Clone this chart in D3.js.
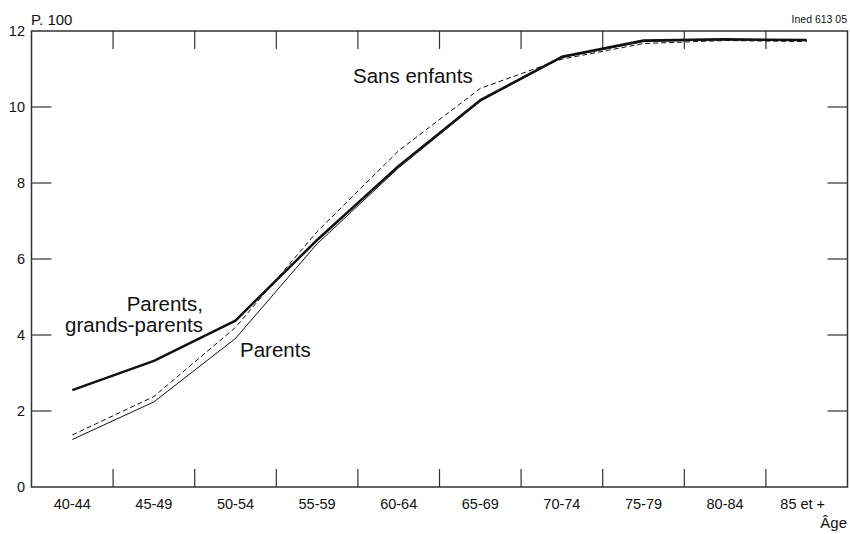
<!DOCTYPE html>
<html>
<head>
<meta charset="utf-8">
<script src="https://cdn.jsdelivr.net/npm/d3@7"></script>
<style>
  body { margin: 0; background: #fff; }
  svg { display: block; font-family: "Liberation Sans", Arial, sans-serif; }
</style>
</head>
<body>
<svg id="chart" width="850" height="534"></svg>
<script>
const categories = ["40-44", "45-49", "50-54", "55-59", "60-64", "65-69", "70-74", "75-79", "80-84", "85 et +"];
const yTicks = [0, 2, 4, 6, 8, 10, 12];
const grandsParents = [2.55, 3.32, 4.38, 6.5, 8.45, 10.18, 11.32, 11.75, 11.78, 11.76];
const parents = [1.25, 2.24, 3.91, 6.4, 8.4, 10.15, 11.3, 11.72, 11.77, 11.75];
const sansEnfants = [1.37, 2.38, 4.2, 6.72, 8.85, 10.49, 11.26, 11.67, 11.75, 11.72];

const svg = d3.select("#chart");
const L = 31.5, R = 847.5, T = 31, B = 487;

const x = d3.scaleBand().domain(categories).range([L, R]).paddingInner(0).paddingOuter(0);
const y = d3.scaleLinear().domain([0, 12]).range([B, T]);
const cx = c => x(c) + x.bandwidth() / 2;

const axisColor = "#333";

// frame
svg.append("rect").attr("x", L).attr("y", T).attr("width", R - L).attr("height", B - T)
  .attr("fill", "none").attr("stroke", axisColor).attr("stroke-width", 1.5);

// bottom & top ticks at band boundaries
const boundaries = categories.slice(1).map(c => x(c));
svg.append("g").selectAll("line").data(boundaries).join("line")
  .attr("x1", d => d).attr("x2", d => d).attr("y1", B).attr("y2", B - 18)
  .attr("stroke", axisColor).attr("stroke-width", 1.2);
svg.append("g").selectAll("line").data(boundaries).join("line")
  .attr("x1", d => d).attr("x2", d => d).attr("y1", T).attr("y2", T + 18)
  .attr("stroke", axisColor).attr("stroke-width", 1.2);

// left & right y ticks
const innerY = yTicks.filter(v => v > 0 && v < 12);
svg.append("g").selectAll("line").data(innerY).join("line")
  .attr("x1", L).attr("x2", L + 20).attr("y1", d => y(d)).attr("y2", d => y(d))
  .attr("stroke", axisColor).attr("stroke-width", 1.2);
svg.append("g").selectAll("line").data(innerY).join("line")
  .attr("x1", R - 20).attr("x2", R).attr("y1", d => y(d)).attr("y2", d => y(d))
  .attr("stroke", axisColor).attr("stroke-width", 1.2);

// y labels
svg.append("g").selectAll("text").data(yTicks).join("text")
  .attr("x", 25).attr("y", d => y(d)).attr("dy", "0.35em")
  .attr("text-anchor", "end").attr("font-size", 14.5).attr("fill", "#111")
  .text(d => d);

// x labels
svg.append("g").selectAll("text").data(categories).join("text")
  .attr("x", d => cx(d)).attr("y", 504).attr("dy", "0.35em")
  .attr("dx", (d, i) => i === categories.length - 1 ? -4 : 0)
  .attr("text-anchor", "middle").attr("font-size", 14.5).attr("fill", "#111")
  .text(d => d);

svg.append("text").attr("x", 847).attr("y", 528)
  .attr("text-anchor", "end").attr("font-size", 15).attr("fill", "#111").text("Âge");
svg.append("text").attr("x", 31).attr("y", 25)
  .attr("font-size", 15).attr("fill", "#111").text("P. 100");
svg.append("text").attr("x", 847).attr("y", 23)
  .attr("text-anchor", "end").attr("font-size", 10.5).attr("fill", "#111").text("Ined 613 05");

// lines
const line = d3.line().x((d, i) => cx(categories[i])).y(d => y(d));
svg.append("path").datum(sansEnfants).attr("d", line).attr("fill", "none")
  .attr("stroke", "#111").attr("stroke-width", 1).attr("stroke-dasharray", "5,3");
svg.append("path").datum(parents).attr("d", line).attr("fill", "none")
  .attr("stroke", "#111").attr("stroke-width", 1);
svg.append("path").datum(grandsParents).attr("d", line).attr("fill", "none")
  .attr("stroke", "#111").attr("stroke-width", 2.5).attr("stroke-linejoin", "round");

// labels
const lab = (t, xx, yy, anchor) => svg.append("text").attr("x", xx).attr("y", yy)
  .attr("text-anchor", anchor).attr("font-size", 20.5).attr("fill", "#111").text(t);
lab("Sans enfants", 353, 83, "start");
lab("Parents,", 203, 311, "end");
lab("grands-parents", 203, 332, "end");
lab("Parents", 240, 357, "start");
</script>
</body>
</html>
